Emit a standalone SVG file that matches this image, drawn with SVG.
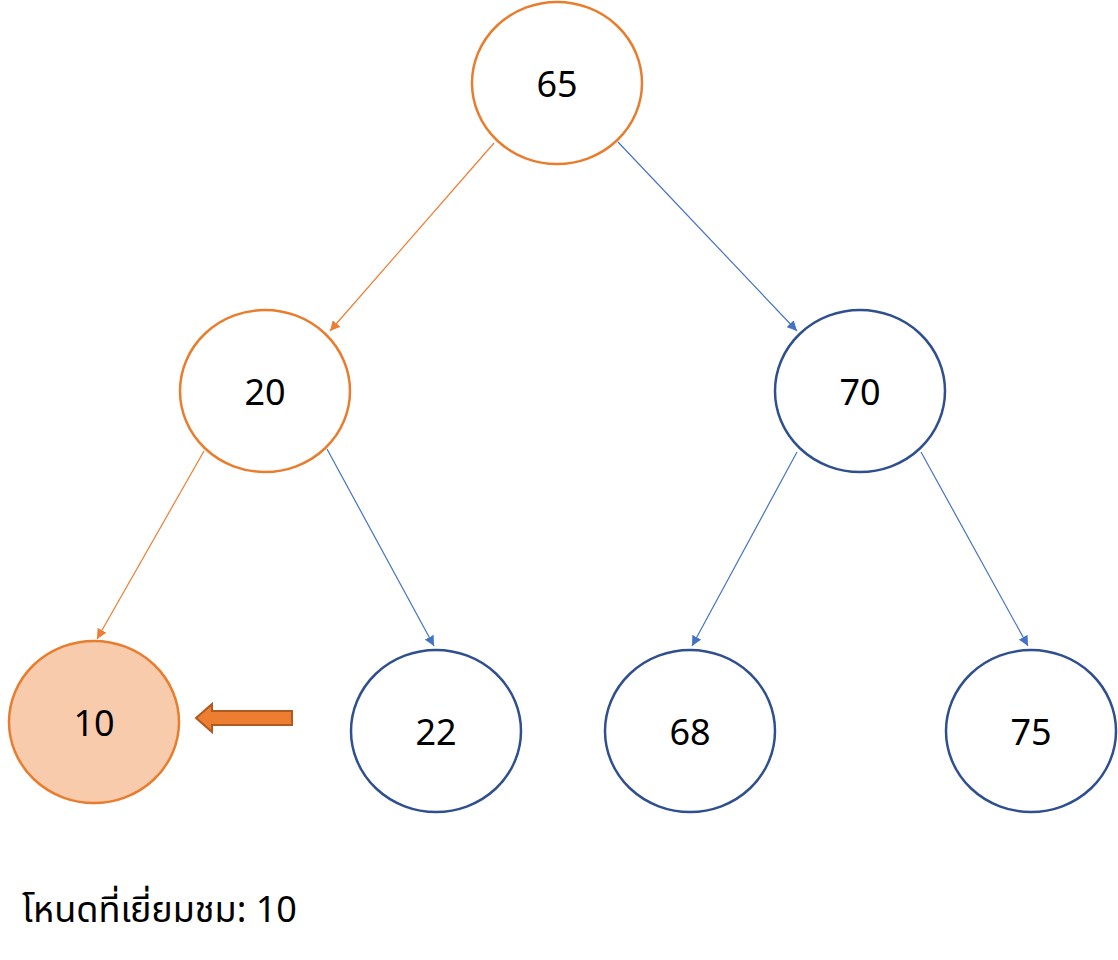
<svg xmlns="http://www.w3.org/2000/svg" width="1118" height="960" viewBox="0 0 1118 960">
<style>
.n{fill:#fff;stroke:#2F4F8F;stroke-width:2.5}
.o{fill:#fff;stroke:#E87D2E;stroke-width:2.5}
.t{font-family:"Noto Sans","Liberation Sans",sans-serif;font-size:36px;fill:#000;text-anchor:middle;dominant-baseline:central}
.eb{stroke:#4472C4;stroke-width:1.2;fill:none}
.eo{stroke:#ED7D31;stroke-width:1.2;fill:none}
</style>
<defs>
<marker id="ab" viewBox="0 0 10 10" refX="10" refY="5" markerWidth="10" markerHeight="10" markerUnits="userSpaceOnUse" orient="auto"><path d="M0,0L10,5L0,10z" fill="#4472C4"/></marker>
<marker id="ao" viewBox="0 0 10 10" refX="10" refY="5" markerWidth="10" markerHeight="10" markerUnits="userSpaceOnUse" orient="auto"><path d="M0,0L10,5L0,10z" fill="#ED7D31"/></marker>
</defs>
<rect width="1118" height="960" fill="#fff"/>
<g id="connectors">
<line class="eo" x1="494" y1="143" x2="330" y2="331" marker-end="url(#ao)"/>
<line class="eb" x1="618" y1="142" x2="797" y2="331" marker-end="url(#ab)"/>
<line class="eo" x1="204" y1="451" x2="97" y2="639" marker-end="url(#ao)"/>
<line class="eb" x1="327" y1="449" x2="434" y2="646" marker-end="url(#ab)"/>
<line class="eb" x1="797" y1="452" x2="692" y2="646" marker-end="url(#ab)"/>
<line class="eb" x1="921" y1="452" x2="1028" y2="646" marker-end="url(#ab)"/>
</g>
<g id="n65"><ellipse class="o" cx="557" cy="83" rx="85" ry="81"/><text class="t" x="557" y="83">65</text></g>
<g id="n20"><ellipse class="o" cx="265" cy="391" rx="85" ry="81"/><text class="t" x="265" y="391">20</text></g>
<g id="n70"><ellipse class="n" cx="860" cy="391" rx="85" ry="81"/><text class="t" x="860" y="391">70</text></g>
<g id="n10"><ellipse cx="94" cy="722" rx="85" ry="81" fill="#F8CBAD" stroke="#E87D2E" stroke-width="2.5"/><text class="t" x="94" y="722">10</text></g>
<g id="n22"><ellipse class="n" cx="436" cy="731" rx="85" ry="81"/><text class="t" x="436" y="731">22</text></g>
<g id="n68"><ellipse class="n" cx="690" cy="731" rx="85" ry="81"/><text class="t" x="690" y="731">68</text></g>
<g id="n75"><ellipse class="n" cx="1031" cy="731" rx="85" ry="81"/><text class="t" x="1031" y="731">75</text></g>
<g id="pointer"><path d="M196,718L212,704V711H292V725H212V732Z" fill="#ED7D31" stroke="#AE5A21" stroke-width="2"/></g>
<text x="22" y="922" font-family="'Noto Sans','Noto Sans Thai','DejaVu Sans',sans-serif" font-size="36" fill="#000">โหนดที่เยี่ยมชม: 10</text>
</svg>
